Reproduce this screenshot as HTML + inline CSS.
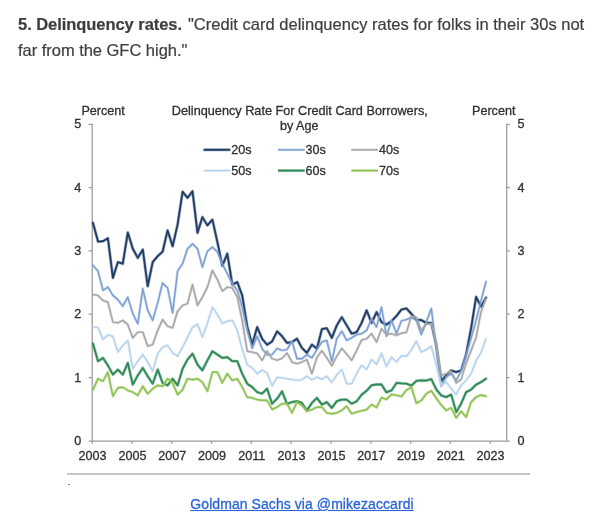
<!DOCTYPE html>
<html><head><meta charset="utf-8">
<style>
html,body{margin:0;padding:0;background:#fff;}
body{width:600px;height:529px;overflow:hidden;position:relative;font-family:"Liberation Sans",sans-serif;color:#3d3d3d;}
#p{position:absolute;left:18px;top:10.9px;width:575px;font-size:16.5px;line-height:26px;margin:0;white-space:nowrap;}
#b{letter-spacing:-0.05px;}
#l1{letter-spacing:0.01px;margin-left:1.4px;}
#l2{letter-spacing:-0.03px;}
#cap{position:absolute;left:2px;width:600px;top:494px;text-align:center;font-size:14px;line-height:20px;}
#cap a{color:#2b65d9;text-decoration:underline;letter-spacing:0.07px;display:inline-block;transform:scaleY(1.07);transform-origin:50% 80%;-webkit-text-stroke:0.3px #2b65d9;}
svg{position:absolute;left:0;top:0;will-change:transform;}
#p,#cap{will-change:transform;}
#p{-webkit-text-stroke:0.2px #3d3d3d;}
svg text{font-family:"Liberation Sans",sans-serif;fill:#303030;stroke:#303030;stroke-width:0.3px;}
#rule{position:absolute;left:67px;top:473.3px;width:462.5px;height:1.5px;background:#c6c6c6;}
#dot{position:absolute;left:68px;top:483.7px;width:2px;height:1.3px;background:#8a8a8a;}
</style></head><body>
<p id="p"><b id="b">5. Delinquency rates.</b> <span id="l1">"Credit card delinquency rates for folks in their 30s not</span><br><span id="l2">far from the GFC high."</span></p>
<svg width="600" height="529" viewBox="0 0 600 529">
<path d="M88.7 124.4H92.2V441.0M509.7 124.4H506.7V441.0M88.7 441.0H509.7" fill="none" stroke="#9a9a9a" stroke-width="1.25"/>
<path d="M88.7 377.6H92.2M506.7 377.6H509.7M88.7 314.2H92.2M506.7 314.2H509.7M88.7 250.9H92.2M506.7 250.9H509.7M88.7 187.5H92.2M506.7 187.5H509.7M92.2 441.0V443.8M132.0 441.0V443.8M171.8 441.0V443.8M211.6 441.0V443.8M251.4 441.0V443.8M291.2 441.0V443.8M331.0 441.0V443.8M370.8 441.0V443.8M410.6 441.0V443.8M450.4 441.0V443.8M490.2 441.0V443.8" fill="none" stroke="#9a9a9a" stroke-width="1.25"/>
<polyline points="93.0,222.9 98.0,241.6 103.0,241.2 107.9,238.2 112.9,277.9 117.9,262.1 122.8,263.7 127.8,232.6 132.8,248.7 137.8,257.9 142.8,249.6 147.7,286.2 152.7,262.1 157.7,256.2 162.6,251.7 167.6,230.4 172.6,246.2 177.6,224.6 182.6,191.7 187.5,197.9 192.5,191.2 197.5,232.9 202.4,217.1 207.4,225.4 212.4,219.6 217.4,242.1 222.3,265.8 227.3,253.7 232.3,284.6 237.3,282.1 242.2,295.4 247.2,326.4 252.2,344.4 257.2,327.1 262.1,338.7 267.1,344.8 272.1,341.4 277.1,331.4 282.0,336.2 287.0,342.9 292.0,342.1 297.0,338.7 301.9,347.9 306.9,352.9 311.9,344.6 316.9,348.7 321.9,329.1 326.8,328.2 331.8,337.9 336.8,325.4 341.8,317.1 346.7,325.4 351.7,333.7 356.7,332.1 361.6,322.9 366.6,310.4 371.6,322.9 376.6,312.1 381.5,322.1 386.5,324.6 391.5,321.2 396.5,315.9 401.4,309.6 406.4,308.4 411.4,313.9 416.4,319.6 421.3,320.1 426.3,322.9 431.3,322.9 436.3,345.4 441.2,381.2 446.2,375.4 451.2,370.4 456.2,372.1 461.1,370.4 466.1,354.4 471.1,328.4 476.1,296.9 481.0,306.6 486.0,297.7" fill="none" stroke="#1f3d66" stroke-width="3.1" stroke-opacity="0.4" stroke-linejoin="round" stroke-linecap="round"/><polyline points="93.0,222.9 98.0,241.6 103.0,241.2 107.9,238.2 112.9,277.9 117.9,262.1 122.8,263.7 127.8,232.6 132.8,248.7 137.8,257.9 142.8,249.6 147.7,286.2 152.7,262.1 157.7,256.2 162.6,251.7 167.6,230.4 172.6,246.2 177.6,224.6 182.6,191.7 187.5,197.9 192.5,191.2 197.5,232.9 202.4,217.1 207.4,225.4 212.4,219.6 217.4,242.1 222.3,265.8 227.3,253.7 232.3,284.6 237.3,282.1 242.2,295.4 247.2,326.4 252.2,344.4 257.2,327.1 262.1,338.7 267.1,344.8 272.1,341.4 277.1,331.4 282.0,336.2 287.0,342.9 292.0,342.1 297.0,338.7 301.9,347.9 306.9,352.9 311.9,344.6 316.9,348.7 321.9,329.1 326.8,328.2 331.8,337.9 336.8,325.4 341.8,317.1 346.7,325.4 351.7,333.7 356.7,332.1 361.6,322.9 366.6,310.4 371.6,322.9 376.6,312.1 381.5,322.1 386.5,324.6 391.5,321.2 396.5,315.9 401.4,309.6 406.4,308.4 411.4,313.9 416.4,319.6 421.3,320.1 426.3,322.9 431.3,322.9 436.3,345.4 441.2,381.2 446.2,375.4 451.2,370.4 456.2,372.1 461.1,370.4 466.1,354.4 471.1,328.4 476.1,296.9 481.0,306.6 486.0,297.7" fill="none" stroke="#1f3d66" stroke-width="1.8000000000000003" stroke-linejoin="round" stroke-linecap="round"/>
<polyline points="93.0,265.4 98.0,271.2 103.0,290.4 107.9,287.1 112.9,295.4 117.9,299.6 122.8,306.2 127.8,297.1 132.8,313.7 137.8,323.7 142.8,288.7 147.7,310.4 152.7,320.4 157.7,302.9 162.6,282.9 167.6,287.9 172.6,312.9 177.6,271.2 182.6,263.7 187.5,248.7 192.5,243.7 197.5,248.7 202.4,267.1 207.4,251.2 212.4,247.1 217.4,252.1 222.3,263.9 227.3,273.7 232.3,283.7 237.3,290.4 242.2,307.1 247.2,330.4 252.2,348.4 257.2,336.2 262.1,348.7 267.1,354.9 272.1,354.6 277.1,348.4 282.0,350.4 287.0,349.6 292.0,341.2 297.0,358.7 301.9,358.7 306.9,354.6 311.9,357.9 316.9,349.6 321.9,341.9 326.8,340.4 331.8,361.4 336.8,338.7 341.8,331.2 346.7,340.4 351.7,337.9 356.7,334.6 361.6,333.7 366.6,330.4 371.6,318.7 376.6,327.1 381.5,307.1 386.5,336.2 391.5,320.4 396.5,333.4 401.4,320.9 406.4,319.6 411.4,317.4 416.4,320.4 421.3,334.6 426.3,322.1 431.3,308.4 436.3,348.4 441.2,386.2 446.2,377.1 451.2,373.7 456.2,380.4 461.1,371.2 466.1,355.4 471.1,338.4 476.1,320.4 481.0,300.9 486.0,281.6" fill="none" stroke="#7b9fd3" stroke-width="2.7" stroke-opacity="0.4" stroke-linejoin="round" stroke-linecap="round"/><polyline points="93.0,265.4 98.0,271.2 103.0,290.4 107.9,287.1 112.9,295.4 117.9,299.6 122.8,306.2 127.8,297.1 132.8,313.7 137.8,323.7 142.8,288.7 147.7,310.4 152.7,320.4 157.7,302.9 162.6,282.9 167.6,287.9 172.6,312.9 177.6,271.2 182.6,263.7 187.5,248.7 192.5,243.7 197.5,248.7 202.4,267.1 207.4,251.2 212.4,247.1 217.4,252.1 222.3,263.9 227.3,273.7 232.3,283.7 237.3,290.4 242.2,307.1 247.2,330.4 252.2,348.4 257.2,336.2 262.1,348.7 267.1,354.9 272.1,354.6 277.1,348.4 282.0,350.4 287.0,349.6 292.0,341.2 297.0,358.7 301.9,358.7 306.9,354.6 311.9,357.9 316.9,349.6 321.9,341.9 326.8,340.4 331.8,361.4 336.8,338.7 341.8,331.2 346.7,340.4 351.7,337.9 356.7,334.6 361.6,333.7 366.6,330.4 371.6,318.7 376.6,327.1 381.5,307.1 386.5,336.2 391.5,320.4 396.5,333.4 401.4,320.9 406.4,319.6 411.4,317.4 416.4,320.4 421.3,334.6 426.3,322.1 431.3,308.4 436.3,348.4 441.2,386.2 446.2,377.1 451.2,373.7 456.2,380.4 461.1,371.2 466.1,355.4 471.1,338.4 476.1,320.4 481.0,300.9 486.0,281.6" fill="none" stroke="#7b9fd3" stroke-width="1.4" stroke-linejoin="round" stroke-linecap="round"/>
<polyline points="93.0,294.6 98.0,295.4 103.0,300.4 107.9,302.1 112.9,322.1 117.9,322.9 122.8,320.4 127.8,324.6 132.8,337.9 137.8,332.1 142.8,332.1 147.7,346.2 152.7,344.6 157.7,330.4 162.6,319.6 167.6,326.2 172.6,327.9 177.6,311.2 182.6,305.4 187.5,303.7 192.5,284.6 197.5,305.4 202.4,297.1 207.4,287.1 212.4,270.4 217.4,279.6 222.3,291.2 227.3,287.1 232.3,287.9 237.3,297.1 242.2,320.4 247.2,351.2 252.2,352.1 257.2,353.4 262.1,360.4 267.1,351.2 272.1,358.7 277.1,360.2 282.0,358.4 287.0,352.9 292.0,362.1 297.0,363.7 301.9,362.1 306.9,359.6 311.9,373.7 316.9,357.4 321.9,350.7 326.8,357.9 331.8,365.9 336.8,356.2 341.8,348.4 346.7,354.1 351.7,360.4 356.7,350.4 361.6,340.1 366.6,338.7 371.6,333.7 376.6,342.1 381.5,328.7 386.5,334.6 391.5,333.7 396.5,335.4 401.4,333.2 406.4,332.4 411.4,316.2 416.4,317.4 421.3,330.4 426.3,324.1 431.3,323.7 436.3,343.4 441.2,375.4 446.2,373.7 451.2,371.2 456.2,382.9 461.1,379.6 466.1,363.4 471.1,350.4 476.1,337.4 481.0,311.9 486.0,298.6" fill="none" stroke="#a5a5a5" stroke-width="2.7" stroke-opacity="0.4" stroke-linejoin="round" stroke-linecap="round"/><polyline points="93.0,294.6 98.0,295.4 103.0,300.4 107.9,302.1 112.9,322.1 117.9,322.9 122.8,320.4 127.8,324.6 132.8,337.9 137.8,332.1 142.8,332.1 147.7,346.2 152.7,344.6 157.7,330.4 162.6,319.6 167.6,326.2 172.6,327.9 177.6,311.2 182.6,305.4 187.5,303.7 192.5,284.6 197.5,305.4 202.4,297.1 207.4,287.1 212.4,270.4 217.4,279.6 222.3,291.2 227.3,287.1 232.3,287.9 237.3,297.1 242.2,320.4 247.2,351.2 252.2,352.1 257.2,353.4 262.1,360.4 267.1,351.2 272.1,358.7 277.1,360.2 282.0,358.4 287.0,352.9 292.0,362.1 297.0,363.7 301.9,362.1 306.9,359.6 311.9,373.7 316.9,357.4 321.9,350.7 326.8,357.9 331.8,365.9 336.8,356.2 341.8,348.4 346.7,354.1 351.7,360.4 356.7,350.4 361.6,340.1 366.6,338.7 371.6,333.7 376.6,342.1 381.5,328.7 386.5,334.6 391.5,333.7 396.5,335.4 401.4,333.2 406.4,332.4 411.4,316.2 416.4,317.4 421.3,330.4 426.3,324.1 431.3,323.7 436.3,343.4 441.2,375.4 446.2,373.7 451.2,371.2 456.2,382.9 461.1,379.6 466.1,363.4 471.1,350.4 476.1,337.4 481.0,311.9 486.0,298.6" fill="none" stroke="#a5a5a5" stroke-width="1.4" stroke-linejoin="round" stroke-linecap="round"/>
<polyline points="93.0,327.1 98.0,327.4 103.0,339.6 107.9,334.9 112.9,336.4 117.9,352.1 122.8,345.4 127.8,340.4 132.8,368.7 137.8,361.2 142.8,354.6 147.7,362.1 152.7,371.2 157.7,353.7 162.6,347.1 167.6,345.4 172.6,352.9 177.6,356.2 182.6,347.1 187.5,337.4 192.5,327.4 197.5,324.1 202.4,337.1 207.4,323.4 212.4,307.1 217.4,314.6 222.3,323.4 227.3,321.2 232.3,320.4 237.3,330.4 242.2,349.4 247.2,364.6 252.2,367.9 257.2,373.7 262.1,370.0 267.1,373.2 272.1,385.8 277.1,377.4 282.0,377.9 287.0,378.7 292.0,379.6 297.0,380.4 301.9,379.6 306.9,376.2 311.9,380.0 316.9,377.1 321.9,379.4 326.8,376.2 331.8,382.4 336.8,374.9 341.8,369.6 346.7,383.7 351.7,383.7 356.7,373.7 361.6,365.2 366.6,369.4 371.6,359.4 376.6,364.4 381.5,353.2 386.5,366.4 391.5,357.1 396.5,361.9 401.4,355.8 406.4,356.4 411.4,349.9 416.4,341.2 421.3,352.1 426.3,349.6 431.3,346.2 436.3,365.4 441.2,385.4 446.2,382.1 451.2,388.7 456.2,394.6 461.1,385.4 466.1,380.4 471.1,373.7 476.1,360.4 481.0,352.6 486.0,338.7" fill="none" stroke="#b6d3ee" stroke-width="2.7" stroke-opacity="0.4" stroke-linejoin="round" stroke-linecap="round"/><polyline points="93.0,327.1 98.0,327.4 103.0,339.6 107.9,334.9 112.9,336.4 117.9,352.1 122.8,345.4 127.8,340.4 132.8,368.7 137.8,361.2 142.8,354.6 147.7,362.1 152.7,371.2 157.7,353.7 162.6,347.1 167.6,345.4 172.6,352.9 177.6,356.2 182.6,347.1 187.5,337.4 192.5,327.4 197.5,324.1 202.4,337.1 207.4,323.4 212.4,307.1 217.4,314.6 222.3,323.4 227.3,321.2 232.3,320.4 237.3,330.4 242.2,349.4 247.2,364.6 252.2,367.9 257.2,373.7 262.1,370.0 267.1,373.2 272.1,385.8 277.1,377.4 282.0,377.9 287.0,378.7 292.0,379.6 297.0,380.4 301.9,379.6 306.9,376.2 311.9,380.0 316.9,377.1 321.9,379.4 326.8,376.2 331.8,382.4 336.8,374.9 341.8,369.6 346.7,383.7 351.7,383.7 356.7,373.7 361.6,365.2 366.6,369.4 371.6,359.4 376.6,364.4 381.5,353.2 386.5,366.4 391.5,357.1 396.5,361.9 401.4,355.8 406.4,356.4 411.4,349.9 416.4,341.2 421.3,352.1 426.3,349.6 431.3,346.2 436.3,365.4 441.2,385.4 446.2,382.1 451.2,388.7 456.2,394.6 461.1,385.4 466.1,380.4 471.1,373.7 476.1,360.4 481.0,352.6 486.0,338.7" fill="none" stroke="#b6d3ee" stroke-width="1.4" stroke-linejoin="round" stroke-linecap="round"/>
<polyline points="93.0,343.7 98.0,361.2 103.0,357.9 107.9,365.4 112.9,374.6 117.9,369.6 122.8,374.6 127.8,362.9 132.8,384.6 137.8,375.4 142.8,367.9 147.7,376.2 152.7,383.7 157.7,369.6 162.6,382.9 167.6,385.4 172.6,378.7 177.6,385.4 182.6,368.7 187.5,359.6 192.5,353.7 197.5,364.6 202.4,370.4 207.4,360.4 212.4,351.2 217.4,354.6 222.3,357.9 227.3,357.1 232.3,361.2 237.3,361.2 242.2,373.7 247.2,383.7 252.2,387.1 257.2,392.1 262.1,393.7 267.1,388.7 272.1,403.7 277.1,398.7 282.0,391.4 287.0,403.9 292.0,402.1 297.0,401.2 301.9,402.9 306.9,410.4 311.9,402.9 316.9,397.9 321.9,404.6 326.8,402.1 331.8,407.9 336.8,401.2 341.8,399.6 346.7,399.6 351.7,403.7 356.7,401.2 361.6,394.7 366.6,390.8 371.6,385.2 376.6,384.5 381.5,384.5 386.5,392.4 391.5,390.4 396.5,382.9 401.4,383.4 406.4,383.6 411.4,385.6 416.4,380.9 421.3,380.4 426.3,380.6 431.3,379.1 436.3,389.4 441.2,395.4 446.2,397.1 451.2,394.6 456.2,412.1 461.1,403.7 466.1,392.1 471.1,389.6 476.1,384.6 481.0,382.1 486.0,378.7" fill="none" stroke="#308a58" stroke-width="3.1" stroke-opacity="0.4" stroke-linejoin="round" stroke-linecap="round"/><polyline points="93.0,343.7 98.0,361.2 103.0,357.9 107.9,365.4 112.9,374.6 117.9,369.6 122.8,374.6 127.8,362.9 132.8,384.6 137.8,375.4 142.8,367.9 147.7,376.2 152.7,383.7 157.7,369.6 162.6,382.9 167.6,385.4 172.6,378.7 177.6,385.4 182.6,368.7 187.5,359.6 192.5,353.7 197.5,364.6 202.4,370.4 207.4,360.4 212.4,351.2 217.4,354.6 222.3,357.9 227.3,357.1 232.3,361.2 237.3,361.2 242.2,373.7 247.2,383.7 252.2,387.1 257.2,392.1 262.1,393.7 267.1,388.7 272.1,403.7 277.1,398.7 282.0,391.4 287.0,403.9 292.0,402.1 297.0,401.2 301.9,402.9 306.9,410.4 311.9,402.9 316.9,397.9 321.9,404.6 326.8,402.1 331.8,407.9 336.8,401.2 341.8,399.6 346.7,399.6 351.7,403.7 356.7,401.2 361.6,394.7 366.6,390.8 371.6,385.2 376.6,384.5 381.5,384.5 386.5,392.4 391.5,390.4 396.5,382.9 401.4,383.4 406.4,383.6 411.4,385.6 416.4,380.9 421.3,380.4 426.3,380.6 431.3,379.1 436.3,389.4 441.2,395.4 446.2,397.1 451.2,394.6 456.2,412.1 461.1,403.7 466.1,392.1 471.1,389.6 476.1,384.6 481.0,382.1 486.0,378.7" fill="none" stroke="#308a58" stroke-width="1.8000000000000003" stroke-linejoin="round" stroke-linecap="round"/>
<polyline points="93.0,389.6 98.0,378.7 103.0,381.2 107.9,372.1 112.9,396.2 117.9,387.9 122.8,387.1 127.8,390.4 132.8,392.1 137.8,395.4 142.8,386.2 147.7,393.7 152.7,388.7 157.7,385.4 162.6,386.2 167.6,378.7 172.6,382.9 177.6,394.6 182.6,389.6 187.5,378.7 192.5,379.6 197.5,378.7 202.4,382.1 207.4,391.2 212.4,372.1 217.4,372.1 222.3,382.9 227.3,373.7 232.3,380.4 237.3,378.7 242.2,387.1 247.2,397.1 252.2,397.9 257.2,399.6 262.1,400.4 267.1,400.4 272.1,409.4 277.1,407.1 282.0,403.7 287.0,403.7 292.0,412.9 297.0,402.1 301.9,405.4 306.9,411.2 311.9,409.6 316.9,407.1 321.9,407.1 326.8,412.9 331.8,413.7 336.8,412.9 341.8,410.4 346.7,406.2 351.7,413.7 356.7,412.1 361.6,410.7 366.6,409.6 371.6,404.5 376.6,407.4 381.5,397.6 386.5,399.4 391.5,394.4 396.5,395.2 401.4,396.6 406.4,390.0 411.4,387.2 416.4,403.2 421.3,400.4 426.3,393.7 431.3,390.8 436.3,398.2 441.2,404.9 446.2,410.4 451.2,407.9 456.2,417.9 461.1,411.2 466.1,417.1 471.1,402.1 476.1,397.1 481.0,395.1 486.0,396.2" fill="none" stroke="#90c354" stroke-width="2.9" stroke-opacity="0.4" stroke-linejoin="round" stroke-linecap="round"/><polyline points="93.0,389.6 98.0,378.7 103.0,381.2 107.9,372.1 112.9,396.2 117.9,387.9 122.8,387.1 127.8,390.4 132.8,392.1 137.8,395.4 142.8,386.2 147.7,393.7 152.7,388.7 157.7,385.4 162.6,386.2 167.6,378.7 172.6,382.9 177.6,394.6 182.6,389.6 187.5,378.7 192.5,379.6 197.5,378.7 202.4,382.1 207.4,391.2 212.4,372.1 217.4,372.1 222.3,382.9 227.3,373.7 232.3,380.4 237.3,378.7 242.2,387.1 247.2,397.1 252.2,397.9 257.2,399.6 262.1,400.4 267.1,400.4 272.1,409.4 277.1,407.1 282.0,403.7 287.0,403.7 292.0,412.9 297.0,402.1 301.9,405.4 306.9,411.2 311.9,409.6 316.9,407.1 321.9,407.1 326.8,412.9 331.8,413.7 336.8,412.9 341.8,410.4 346.7,406.2 351.7,413.7 356.7,412.1 361.6,410.7 366.6,409.6 371.6,404.5 376.6,407.4 381.5,397.6 386.5,399.4 391.5,394.4 396.5,395.2 401.4,396.6 406.4,390.0 411.4,387.2 416.4,403.2 421.3,400.4 426.3,393.7 431.3,390.8 436.3,398.2 441.2,404.9 446.2,410.4 451.2,407.9 456.2,417.9 461.1,411.2 466.1,417.1 471.1,402.1 476.1,397.1 481.0,395.1 486.0,396.2" fill="none" stroke="#90c354" stroke-width="1.6" stroke-linejoin="round" stroke-linecap="round"/>
<text x="81.2" y="445.1" text-anchor="end" font-size="12.6">0</text>
<text x="517.4" y="445.1" font-size="12.6">0</text>
<text x="81.2" y="381.7" text-anchor="end" font-size="12.6">1</text>
<text x="517.4" y="381.7" font-size="12.6">1</text>
<text x="81.2" y="318.3" text-anchor="end" font-size="12.6">2</text>
<text x="517.4" y="318.3" font-size="12.6">2</text>
<text x="81.2" y="255.0" text-anchor="end" font-size="12.6">3</text>
<text x="517.4" y="255.0" font-size="12.6">3</text>
<text x="81.2" y="191.6" text-anchor="end" font-size="12.6">4</text>
<text x="517.4" y="191.6" font-size="12.6">4</text>
<text x="81.2" y="128.2" text-anchor="end" font-size="12.6">5</text>
<text x="517.4" y="128.2" font-size="12.6">5</text>
<text x="92.6" y="460.2" text-anchor="middle" font-size="12.6">2003</text>
<text x="132.4" y="460.2" text-anchor="middle" font-size="12.6">2005</text>
<text x="172.2" y="460.2" text-anchor="middle" font-size="12.6">2007</text>
<text x="212.0" y="460.2" text-anchor="middle" font-size="12.6">2009</text>
<text x="251.8" y="460.2" text-anchor="middle" font-size="12.6">2011</text>
<text x="291.6" y="460.2" text-anchor="middle" font-size="12.6">2013</text>
<text x="331.4" y="460.2" text-anchor="middle" font-size="12.6">2015</text>
<text x="371.2" y="460.2" text-anchor="middle" font-size="12.6">2017</text>
<text x="411.0" y="460.2" text-anchor="middle" font-size="12.6">2019</text>
<text x="450.8" y="460.2" text-anchor="middle" font-size="12.6">2021</text>
<text x="490.6" y="460.2" text-anchor="middle" font-size="12.6">2023</text>
<text x="81.4" y="115.3" font-size="12.6">Percent</text>
<text x="515.4" y="115.3" text-anchor="end" font-size="12.6">Percent</text>
<text x="299.8" y="115.1" text-anchor="middle" font-size="12.7">Delinquency Rate For Credit Card Borrowers,</text>
<text x="299.2" y="129.9" text-anchor="middle" font-size="12.6">by Age</text>
<path d="M203.6 149.8H230.29999999999998" stroke="#1f3d66" stroke-width="3.1" stroke-opacity="0.4" fill="none"/><path d="M203.6 149.8H230.29999999999998" stroke="#1f3d66" stroke-width="1.8000000000000003" fill="none"/>
<text x="231.2" y="154.0" font-size="12.6">20s</text>
<path d="M278 149.8H304.7" stroke="#7b9fd3" stroke-width="2.7" stroke-opacity="0.4" fill="none"/><path d="M278 149.8H304.7" stroke="#7b9fd3" stroke-width="1.4" fill="none"/>
<text x="305.6" y="154.0" font-size="12.6">30s</text>
<path d="M351.3 149.8H378.0" stroke="#a5a5a5" stroke-width="2.7" stroke-opacity="0.4" fill="none"/><path d="M351.3 149.8H378.0" stroke="#a5a5a5" stroke-width="1.4" fill="none"/>
<text x="378.90000000000003" y="154.0" font-size="12.6">40s</text>
<path d="M203.6 170.60000000000002H230.29999999999998" stroke="#b6d3ee" stroke-width="2.7" stroke-opacity="0.4" fill="none"/><path d="M203.6 170.60000000000002H230.29999999999998" stroke="#b6d3ee" stroke-width="1.4" fill="none"/>
<text x="231.2" y="174.8" font-size="12.6">50s</text>
<path d="M278 170.60000000000002H304.7" stroke="#308a58" stroke-width="3.1" stroke-opacity="0.4" fill="none"/><path d="M278 170.60000000000002H304.7" stroke="#308a58" stroke-width="1.8000000000000003" fill="none"/>
<text x="305.6" y="174.8" font-size="12.6">60s</text>
<path d="M351.3 170.60000000000002H378.0" stroke="#90c354" stroke-width="2.9" stroke-opacity="0.4" fill="none"/><path d="M351.3 170.60000000000002H378.0" stroke="#90c354" stroke-width="1.6" fill="none"/>
<text x="378.90000000000003" y="174.8" font-size="12.6">70s</text>
</svg>
<div id="rule"></div><div id="dot"></div>
<div id="cap"><a id="lnk">Goldman Sachs via @mikezaccardi</a></div>
</body></html>
